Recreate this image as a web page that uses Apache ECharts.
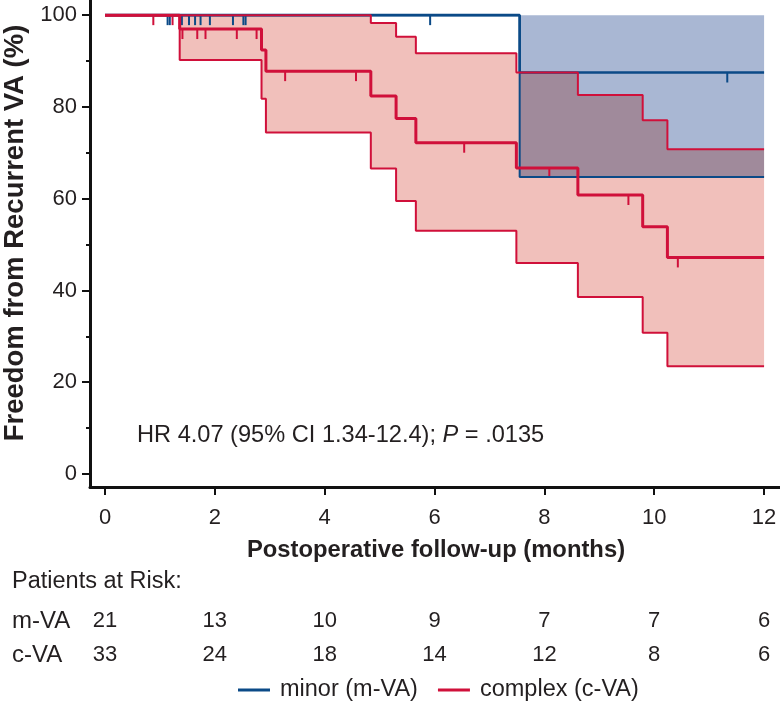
<!DOCTYPE html>
<html><head><meta charset="utf-8">
<script src="https://cdn.jsdelivr.net/npm/echarts@6/dist/echarts.min.js"></script>
<style>html,body{margin:0;padding:0;background:#fff}#c{width:780px;height:701px}</style>
</head><body><div id="c"></div>
<script>
// ---- data ----
const xTicks = [0, 2, 4, 6, 8, 10, 12];
const yTicks = [0, 20, 40, 60, 80, 100];
const yMinorTicks = [10, 30, 50, 70, 90];
const riskMinor = [21, 13, 10, 9, 7, 7, 6];
const riskComplex = [33, 24, 18, 14, 12, 8, 6];

const minorTimes = [0, 7.55, 12];
const minorKM = [100, 87.5, 87.5];
const minorUpper = [100, 100, 100];
const minorLower = [100, 64.7, 64.7];
const minorCensorT = [1.14, 1.18, 1.40, 1.53, 1.64, 1.74, 1.91, 2.33, 2.52, 2.56, 5.92, 11.33];
const minorCensorS = [100, 100, 100, 100, 100, 100, 100, 100, 100, 100, 100, 87.5];

const complexTimes = [0, 1.36, 2.85, 2.93, 4.84, 5.30, 5.66, 7.49, 8.61, 9.79, 10.24, 12];
const complexKM = [100, 96.97, 92.4, 87.8, 82.4, 77.5, 72.2, 66.7, 60.8, 53.9, 47.2, 47.2];
const complexUpper = [100, 100, 100, 100, 98.3, 95.3, 91.7, 87.5, 82.6, 77.1, 70.8, 70.8];
const complexLower = [100, 90.2, 81.8, 74.4, 66.6, 59.5, 53.0, 46.0, 38.6, 30.8, 23.5, 23.5];
const complexCensorT = [0.88, 1.23, 1.41, 1.68, 1.83, 2.40, 2.76, 3.28, 4.57, 6.54, 8.09, 9.53, 10.43];
const complexCensorS = [100, 100, 96.97, 96.97, 96.97, 96.97, 96.97, 87.8, 87.8, 72.2, 66.7, 60.8, 47.2];

// ---- styles ----
const BLUE = '#0B4A87', RED = '#D0103A';
const PINK_FILL = '#F1C0BB', BLUE_FILL = '#A9B7D3';
const FONT = "'Liberation Sans', Arial, Helvetica, sans-serif";
const TXT = '#231F20';

function pairs(ts, vs) { return ts.map((t, i) => [t, vs[i]]); }
function stepPts(ts, vs) {
  const p = [];
  for (let i = 0; i < ts.length; i++) {
    p.push([ts[i], vs[i]]);
    if (i < ts.length - 1) p.push([ts[i + 1], vs[i]]);
  }
  return p;
}
function bandSeries(ts, up, lo, fill, blend) {
  const s = {
    type: 'custom', silent: true,
    data: [[ts[0], up[0]]],
    renderItem: function (params, api) {
      const pts = stepPts(ts, up).concat(stepPts(ts, lo).reverse()).map(p => api.coord(p));
      return { type: 'polygon', shape: { points: pts }, style: { fill: fill, stroke: null } };
    }
  };
  if (blend) s.blendMode = blend;
  return s;
}
function stepLine(name, ts, vs, color, width) {
  return {
    type: 'line', name: name, step: 'end', data: pairs(ts, vs),
    symbol: 'none', showSymbol: false, silent: true,
    color: color, lineStyle: { color: color, width: width }, itemStyle: { color: color }
  };
}
function censor(ts, vs, color) {
  return {
    type: 'scatter', data: pairs(ts, vs), symbol: 'rect', symbolSize: [2, 10],
    symbolOffset: [0, 5], silent: true, itemStyle: { color: color, opacity: 1 }
  };
}

const chart = echarts.init(document.getElementById('c'), null, { renderer: 'canvas' });
const labelStyle = { fontSize: 22, fontFamily: FONT, color: TXT };

chart.setOption({
  animation: false,
  backgroundColor: '#fff',
  grid: { left: 90, top: 0, width: 690, height: 487 },
  xAxis: [
    {
      type: 'value', min: -0.273, max: 12.29,
      axisLine: { onZero: false, lineStyle: { color: '#111', width: 3 } },
      axisTick: { customValues: xTicks, length: 8, lineStyle: { color: '#111', width: 2 } },
      axisLabel: Object.assign({ customValues: xTicks, margin: 20 }, labelStyle),
      splitLine: { show: false }
    },
    {
      type: 'value', min: -0.273, max: 12.29, position: 'bottom', offset: 123,
      axisLine: { show: false, onZero: false }, axisTick: { show: false }, splitLine: { show: false },
      axisLabel: Object.assign({ customValues: xTicks, margin: 0,
        formatter: v => String(riskMinor[Math.round(v / 2)]) }, labelStyle)
    },
    {
      type: 'value', min: -0.273, max: 12.29, position: 'bottom', offset: 157,
      axisLine: { show: false, onZero: false }, axisTick: { show: false }, splitLine: { show: false },
      axisLabel: Object.assign({ customValues: xTicks, margin: 0,
        formatter: v => String(riskComplex[Math.round(v / 2)]) }, labelStyle)
    }
  ],
  yAxis: [
    {
      type: 'value', min: -2.83, max: 103.3,
      axisLine: { onZero: false, lineStyle: { color: '#111', width: 3 } },
      axisTick: { customValues: yTicks, length: 8, lineStyle: { color: '#111', width: 2 } },
      axisLabel: Object.assign({ customValues: yTicks, margin: 13 }, labelStyle),
      splitLine: { show: false }
    },
    {
      type: 'value', min: -2.83, max: 103.3, position: 'left',
      axisLine: { show: false, onZero: false },
      axisTick: { customValues: yMinorTicks, length: 4, lineStyle: { color: '#111', width: 2 } },
      axisLabel: { show: false }, splitLine: { show: false }
    }
  ],
  legend: {
    left: 233, top: 673, itemWidth: 32, itemHeight: 3, itemGap: 20,
    textStyle: { fontSize: 23.5, fontFamily: FONT, color: TXT, padding: [0, 0, 0, 5] },
    data: [{ name: 'minor (m-VA)', icon: 'rect' }, { name: 'complex (c-VA)', icon: 'rect' }]
  },
  graphic: [
    { type: 'text', x: 15, y: 233, rotation: Math.PI / 2, silent: true,
      style: { text: 'Freedom from Recurrent VA (%)', font: 'bold 27.5px ' + FONT, fill: TXT,
        textAlign: 'center', textVerticalAlign: 'middle' } },
    { type: 'text', x: 436, y: 550, silent: true,
      style: { text: 'Postoperative follow-up (months)', font: 'bold 23.8px ' + FONT, fill: TXT,
        textAlign: 'center', textVerticalAlign: 'middle' } },
    { type: 'text', x: 137, y: 435, silent: true,
      style: { text: 'HR 4.07 (95% CI 1.34-12.4); {i|P} = .0135', fontSize: 23.6, fontFamily: FONT, fill: TXT,
        textAlign: 'left', textVerticalAlign: 'middle',
        rich: { i: { fontSize: 23.6, fontFamily: FONT, fontStyle: 'italic', fill: TXT } } } },
    { type: 'text', x: 12, y: 582, silent: true,
      style: { text: 'Patients at Risk:', font: '23.5px ' + FONT, fill: TXT, textAlign: 'left', textVerticalAlign: 'middle' } },
    { type: 'text', x: 12, y: 621, silent: true,
      style: { text: 'm-VA', font: '24px ' + FONT, fill: TXT, textAlign: 'left', textVerticalAlign: 'middle' } },
    { type: 'text', x: 12, y: 655, silent: true,
      style: { text: 'c-VA', font: '24px ' + FONT, fill: TXT, textAlign: 'left', textVerticalAlign: 'middle' } }
  ],
  series: [
    bandSeries(complexTimes, complexUpper, complexLower, PINK_FILL, null),
    bandSeries(minorTimes, minorUpper, minorLower, BLUE_FILL, 'multiply'),
    stepLine('minor lower', minorTimes, minorLower, BLUE, 2),
    stepLine('minor (m-VA)', minorTimes, minorKM, BLUE, 2.6),
    censor(minorCensorT, minorCensorS, BLUE),
    stepLine('complex lower', complexTimes, complexLower, RED, 2),
    stepLine('complex upper', complexTimes, complexUpper, RED, 2),
    stepLine('complex (c-VA)', complexTimes, complexKM, RED, 3),
    censor(complexCensorT, complexCensorS, RED)
  ]
});
</script></body></html>
